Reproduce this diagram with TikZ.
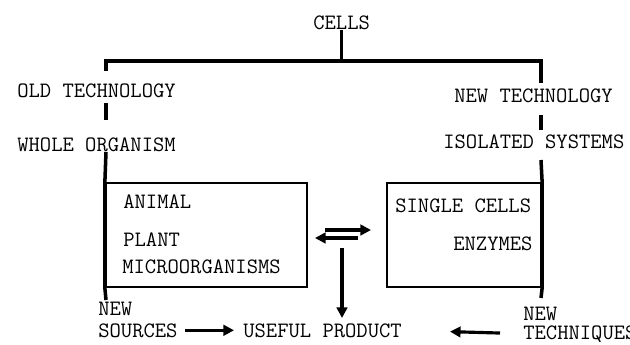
\documentclass[tikz,border=0pt]{standalone}
\usetikzlibrary{arrows.meta}
\tikzset{
  lbl/.style={font=\fontsize{12.5}{14}\selectfont\ttfamily, inner sep=0pt, anchor=base west},
  trunk/.style={line width=2pt},
  box/.style={draw, line width=1.3pt, inner sep=0pt},
  arr/.style={line width=1.8pt, -{Triangle[length=6pt,width=6pt]}}
}
\begin{document}
\begin{tikzpicture}[x=0.02cm, y=-0.02cm]
	\useasboundingbox (0,0) rectangle (630,345);
	% labels
	\node[lbl] (cells) at (313,29) {CELLS};
	\node[lbl] (old) at (17,97) {OLD TECHNOLOGY};
	\node[lbl] (whole) at (17,151) {WHOLE ORGANISM};
	\node[lbl] (new) at (454,102) {NEW TECHNOLOGY};
	\node[lbl] (isolated) at (443,148) {ISOLATED SYSTEMS};
	% boxes
	\node[box, minimum width=4.02cm, minimum height=2.08cm] (living) at (206.5,235) {};
	\node[box, minimum width=3.08cm, minimum height=2.08cm] (parts) at (464,235) {};
	\node[lbl] (animal) at (123,208) {ANIMAL};
	\node[lbl] (plant) at (123,246) {PLANT};
	\node[lbl] (micro) at (122,273) {MICROORGANISMS};
	\node[lbl] (single) at (395,212) {SINGLE CELLS};
	\node[lbl] (enzymes) at (453,250) {ENZYMES};
	% bottom row
	\node[lbl] (newsrc) at (98,315) {NEW};
	\node[lbl] (sources) at (98,337) {SOURCES};
	\node[lbl] (product) at (243,337) {USEFUL PRODUCT};
	\node[lbl] (newtech) at (523,320) {NEW};
	\node[lbl] (techniques) at (523,339) {TECHNIQUES};
	% tree lines
	\coordinate (forkL) at (106,61);
	\coordinate (forkR) at (541,61);
	\draw[trunk] (cells.south) -- (cells.south |- forkL);
	\draw[trunk] (106,71) -- (forkL) -- (forkR) -- (541,83);
	\draw[trunk] (106,103) -- (106,120);
	\draw[trunk] (106,152) -- (living.north west) -- (living.south west) -- (106,300);
	\draw[trunk] (541,115) -- (541,130);
	\draw[trunk] (541,160) -- (parts.north east) -- (parts.south east) -- (541,298);
	% arrows
	\coordinate (swapA) at (325,230);
	\coordinate (swapB) at (371,230);
	\coordinate (swapC) at (358,238);
	\coordinate (swapD) at (315,238);
	\draw[arr] (swapA) -- (swapB);
	\draw[arr] (swapC) -- (swapD);
	\coordinate (downA) at (342,248);
	\draw[arr] (downA) -- (342,318);
	\draw[arr, shorten <=7*0.02cm, shorten >=9*0.02cm] (sources.east) -- (product.west);
	\draw[arr, shorten <=23*0.02cm, shorten >=48*0.02cm] (techniques.west) -- (product.east);
\end{tikzpicture}
\end{document}
